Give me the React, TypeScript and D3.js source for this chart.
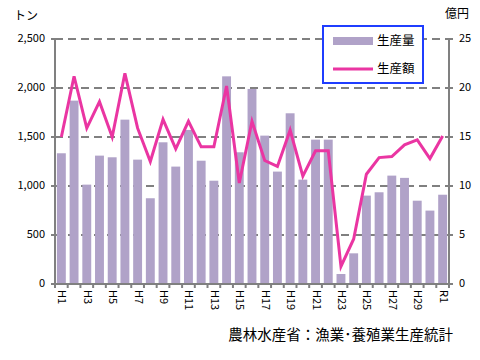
import React from "react";
import * as d3 from "d3";

// 年度（平成元年〜令和元年）
const years: string[] = [
  "H1", "H2", "H3", "H4", "H5", "H6", "H7", "H8", "H9", "H10",
  "H11", "H12", "H13", "H14", "H15", "H16", "H17", "H18", "H19", "H20",
  "H21", "H22", "H23", "H24", "H25", "H26", "H27", "H28", "H29", "H30", "R1",
];

// 生産量（トン）
const volume: number[] = [
  1334, 1871, 1014, 1310, 1293, 1677, 1269, 875, 1446, 1198,
  1572, 1258, 1054, 2119, 1344, 1990, 1514, 1147, 1742, 1065,
  1473, 1473, 102, 313, 902, 936, 1106, 1083, 850, 749, 911,
];

// 生産額（億円）
const amount: number[] = [
  15.0, 21.2, 15.9, 18.6, 15.0, 21.5, 15.9, 12.5, 16.8, 13.8,
  16.6, 14.0, 14.0, 20.2, 10.3, 16.6, 12.6, 12.0, 15.7, 11.0,
  13.6, 13.6, 1.8, 4.6, 11.2, 12.9, 13.0, 14.2, 14.7, 12.8, 15.1,
];

const leftTicks: number[] = [0, 500, 1000, 1500, 2000, 2500];
const rightTicks: number[] = [0, 5, 10, 15, 20, 25];

const barColor = "#b0a2c8";
const lineColor = "#ea35a2";
const axisColor = "#808080";
const font = "'Noto Sans CJK JP', 'Noto Sans', sans-serif";

const left = 55;
const right = 449;
const top = 39;
const bottom = 284;

const App: React.FC = () => {
  const x = d3
    .scaleBand<string>()
    .domain(years)
    .range([left, right])
    .paddingInner(0.3)
    .paddingOuter(0.15);

  const yL = d3.scaleLinear().domain([0, 2500]).range([bottom, top]);
  const yR = d3.scaleLinear().domain([0, 25]).range([bottom, top]);

  const step = x.step();
  const cx = (d: string) => (x(d) ?? 0) + x.bandwidth() / 2;

  const line = d3
    .line<number>()
    .x((_, i) => cx(years[i]))
    .y((d) => yR(d));

  // category boundaries for x ticks
  const boundaries = d3.range(years.length + 1).map((i) => left + i * step);

  return (
    <svg
      width={480}
      height={360}
      style={{ position: "absolute", left: 0, top: 0, background: "#fff" }}
      fontFamily={font}
    >
      {/* Grid */}
      {leftTicks
        .filter((t) => t > 0)
        .map((t) => (
          <line
            key={"g" + t}
            x1={left}
            x2={right}
            y1={yL(t)}
            y2={yL(t)}
            stroke={axisColor}
            strokeWidth={2}
            strokeDasharray="8,5"
          />
        ))}

      {/* Bars */}
      {volume.map((v, i) => (
        <rect
          key={years[i]}
          x={x(years[i])}
          y={yL(v)}
          width={x.bandwidth()}
          height={bottom - yL(v)}
          fill={barColor}
        />
      ))}

      {/* Axes */}
      <line x1={left} x2={left} y1={top} y2={bottom} stroke={axisColor} strokeWidth={2} />
      <line x1={right} x2={right} y1={top} y2={bottom} stroke={axisColor} strokeWidth={2} />
      <line x1={left} x2={right} y1={bottom} y2={bottom} stroke={axisColor} strokeWidth={2} />

      {leftTicks.map((t) => (
        <g key={"l" + t}>
          <line x1={left - 4} x2={left} y1={yL(t)} y2={yL(t)} stroke={axisColor} strokeWidth={2} />
          <text x={left - 10} y={yL(t)} textAnchor="end" dominantBaseline="middle" fontSize={11}>
            {d3.format(",")(t)}
          </text>
        </g>
      ))}
      {rightTicks.map((t) => (
        <g key={"r" + t}>
          <line x1={right} x2={right + 4} y1={yR(t)} y2={yR(t)} stroke={axisColor} strokeWidth={2} />
          <text x={right + 10} y={yR(t)} textAnchor="start" dominantBaseline="middle" fontSize={11}>
            {t}
          </text>
        </g>
      ))}
      {boundaries.map((b, i) => (
        <line key={"b" + i} x1={b} x2={b} y1={bottom} y2={bottom + 4} stroke={axisColor} strokeWidth={2} />
      ))}
      {years.map((d, i) =>
        i % 2 === 0 ? (
          <text
            key={"t" + d}
            transform={`translate(${cx(d)},${bottom + 6}) rotate(90)`}
            textAnchor="start"
            dominantBaseline="middle"
            fontSize={11}
          >
            {d}
          </text>
        ) : null
      )}

      {/* Line */}
      <path d={line(amount) ?? ""} fill="none" stroke={lineColor} strokeWidth={3} strokeLinejoin="miter" />

      {/* Unit labels */}
      <text x={14} y={17} dominantBaseline="middle" fontSize={12}>トン</text>
      <text x={445} y={15} dominantBaseline="middle" fontSize={12}>億円</text>

      {/* Legend */}
      <rect x={323} y={26} width={100} height={57} fill="#fff" stroke="#1f3dff" strokeWidth={2} />
      <rect x={333} y={37} width={40} height={8} fill={barColor} />
      <text x={377} y={41.5} dominantBaseline="middle" fontSize={12.5}>生産量</text>
      <line x1={333} x2={373} y1={69} y2={69} stroke={lineColor} strokeWidth={3} />
      <text x={377} y={69.5} dominantBaseline="middle" fontSize={12.5}>生産額</text>

      {/* Source */}
      <text x={453} y={336} textAnchor="end" dominantBaseline="middle" fontSize={14.5}>
        農林水産省：漁業･養殖業生産統計
      </text>
    </svg>
  );
};

export default App;
